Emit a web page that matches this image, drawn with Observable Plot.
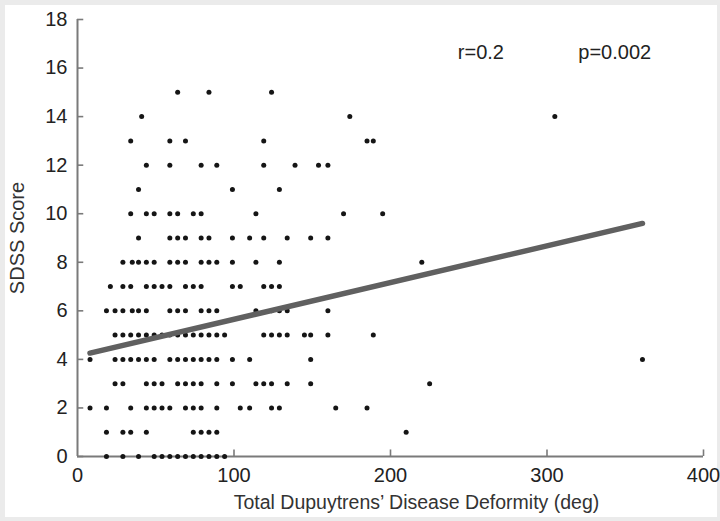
<!DOCTYPE html>
<html>
<head>
<meta charset="utf-8">
<script src="https://cdn.jsdelivr.net/npm/d3@7"></script>
<script src="https://cdn.jsdelivr.net/npm/@observablehq/plot@0.6"></script>
<style>
html, body { margin: 0; padding: 0; background: #ffffff; }
#wrap { position: relative; width: 720px; height: 521px; overflow: hidden; }
#frame { position: absolute; left: 0; top: 0; width: 720px; height: 521px; box-sizing: border-box; border: 5px solid #ebebeb; border-right-width: 3px; border-bottom-width: 4px; }
#wrap svg { position: absolute; left: 0; top: 0; }
</style>
</head>
<body>
<div id="wrap"><div id="frame"></div></div>
<script>
// SDSS score levels (y) and the deformity values (deg) observed at each level
const scores = [0, 1, 2, 3, 4, 5, 6, 7, 8, 9, 10, 11, 12, 13, 14, 15];
const deformityByScore = [
  [18.5, 29, 39, 49, 54, 59, 64, 69, 74, 79, 84, 89, 94],
  [18.5, 29, 34, 44, 74, 79, 84, 89, 210],
  [8, 18.5, 34, 44, 49, 54, 59, 69, 74, 79, 89, 104, 110, 124, 129, 165, 185],
  [24, 29, 44, 49, 54, 64, 69, 74, 79, 89, 99, 114, 119, 124, 134, 149, 225],
  [8, 24, 29, 34, 39, 44, 49, 59, 64, 69, 74, 79, 84, 89, 99, 110, 149, 361],
  [24, 29, 34, 39, 44, 49, 54, 59, 64, 69, 74, 79, 84, 89, 94, 119, 124, 129, 134, 145, 149, 160, 189],
  [18.5, 24, 29, 35, 39, 44, 59, 64, 69, 79, 84, 89, 114, 124, 129, 134, 160],
  [21, 29, 34, 44, 49, 54, 59, 69, 74, 79, 99, 104, 119, 124, 129],
  [29, 35, 39, 44, 49, 59, 64, 69, 79, 84, 89, 99, 114, 129, 220],
  [39, 59, 64, 69, 79, 84, 99, 110, 119, 134, 149, 160],
  [34, 44, 49, 59, 64, 74, 79, 114, 170, 195],
  [39, 99, 129],
  [44, 59, 79, 89, 119, 139, 154, 160],
  [34, 59, 69, 119, 185, 189],
  [41, 174, 305],
  [64, 84, 124]
];

// Regression line end points
const fitDeformity = [8, 361];
const fitScore = [4.26, 9.6];

// Annotations
const annotText = ["r=0.2", "p=0.002"];
const annotX = [243, 320];
const annotY = [16.62, 16.62];

// Axes
const xTicks = [0, 100, 200, 300, 400];
const xTickMarks = [100, 200, 300, 400];
const yTicks = [0, 2, 4, 6, 8, 10, 12, 14, 16, 18];
const xTitle = "Total Dupuytrens\u2019 Disease Deformity (deg)";
const yTitle = "SDSS Score";

const points = [];
scores.forEach((s, i) => deformityByScore[i].forEach(d => points.push({x: d, y: s})));
const fit = fitDeformity.map((d, i) => ({x: d, y: fitScore[i]}));
const annots = annotText.map((t, i) => ({x: annotX[i], y: annotY[i], t}));

const axisColor = "#7a7a7a";
const font = "'Liberation Sans', Arial, Helvetica, sans-serif";

const chart = Plot.plot({
  width: 720,
  height: 521,
  marginLeft: 77,
  marginRight: 17,
  marginTop: 19,
  marginBottom: 65,
  style: {fontFamily: font, fontSize: "20px", color: "#222", background: "transparent", overflow: "visible"},
  x: {domain: [0, 400]},
  y: {domain: [0, 18]},
  marks: [
    Plot.axisX({ticks: xTicks, tickSize: 0, tickPadding: 11, label: null, fontSize: 20, fill: "#222"}),
    Plot.axisY({ticks: yTicks, tickSize: 0, tickPadding: 10, label: null, fontSize: 20, fill: "#222"}),
    // inward tick marks
    Plot.ruleX(xTickMarks, {x: d => d, y1: 0, y2: 0.27, stroke: axisColor, strokeWidth: 1.6}),
    Plot.ruleY(yTicks, {y: d => d, x1: 0, x2: 4, stroke: axisColor, strokeWidth: 1.6}),
    Plot.ruleX([0], {stroke: axisColor, strokeWidth: 2}),
    Plot.ruleY([0], {stroke: axisColor, strokeWidth: 2}),
    Plot.dot(points, {x: "x", y: "y", r: 2.5, fill: "#151515", stroke: "none"}),
    Plot.line(fit, {x: "x", y: "y", stroke: "#606060", strokeWidth: 5.5}),
    Plot.text(annots, {x: "x", y: "y", text: "t", textAnchor: "start", fontSize: 20, fill: "#222"}),
    Plot.text([xTitle], {frameAnchor: "bottom", textAnchor: "middle", dx: 26, dy: 52, fontSize: 19.5, fill: "#333"}),
    Plot.text([yTitle], {frameAnchor: "left", textAnchor: "middle", dx: -60, rotate: -90, fontSize: 20, fill: "#333"})
  ]
});
document.getElementById("wrap").appendChild(chart);
</script>
</body>
</html>
